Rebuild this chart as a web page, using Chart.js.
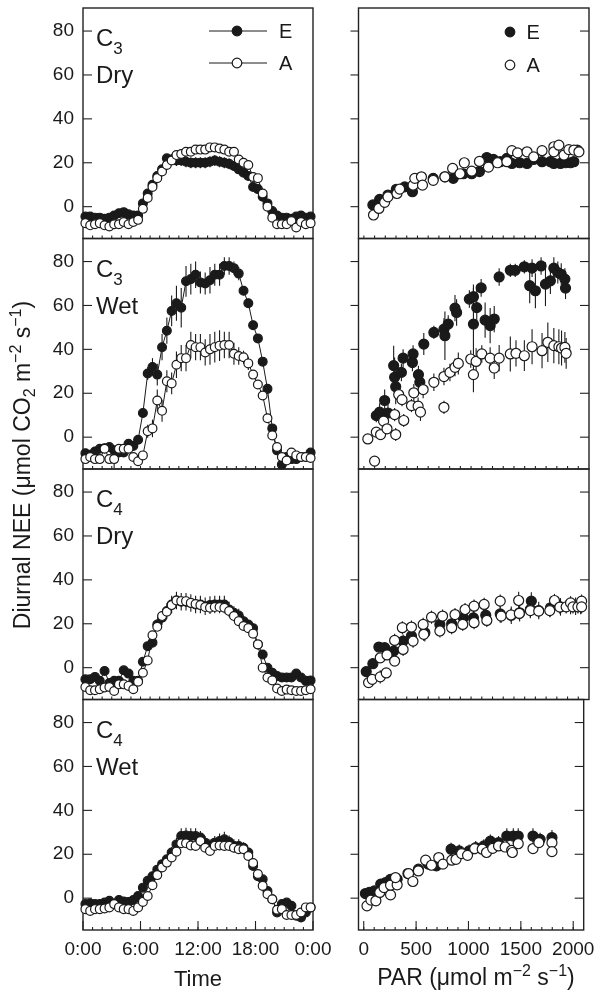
<!DOCTYPE html>
<html>
<head>
<meta charset="utf-8">
<script src="https://cdn.jsdelivr.net/npm/chart.js@4.4.1/dist/chart.umd.min.js"></script>
<style>
    body { margin: 0; background: #fff; }
    #wrap { position: relative; width: 603px; height: 993px; overflow: hidden;
        font-family: "Liberation Sans", Arial, sans-serif; color: #1a1a1a; }
    #wrap canvas { position: absolute; left: 0; top: 0; }
    .plab { position: absolute; left: 96px; font-size: 24px; line-height: 37px; white-space: nowrap; }
    .plab sub { font-size: 17px; vertical-align: -8px; line-height: 0; }
    .ttl { position: absolute; text-align: center; white-space: nowrap; line-height: 30px; height: 30px; }
    .ttl sup, .ttl sub { font-size: 16px; line-height: 0; }
    .ttl sup { vertical-align: 9px; }
    .ttl sub { vertical-align: -5px; }
    #ytitle { left: -228px; top: 450px; width: 500px; font-size: 23px; transform: rotate(-90deg); }
    #xtitleL { left: 98px; top: 964px; width: 200px; font-size: 22px; }
    #xtitleR { left: 326px; top: 962px; width: 300px; font-size: 23px; }
</style>
</head>
<body>
<div id="wrap">
    <canvas id="l0" width="603" height="993"></canvas>
    <canvas id="l1" width="603" height="993"></canvas>
    <canvas id="l2" width="603" height="993"></canvas>
    <canvas id="l3" width="603" height="993"></canvas>
    <canvas id="r0" width="603" height="993"></canvas>
    <canvas id="r1" width="603" height="993"></canvas>
    <canvas id="r2" width="603" height="993"></canvas>
    <canvas id="r3" width="603" height="993"></canvas>
    <div class="ttl" id="ytitle">Diurnal NEE (μmol CO<sub>2</sub> m<sup>−2</sup> s<sup>−1</sup>)</div>
    <div class="ttl" id="xtitleL">Time</div>
    <div class="ttl" id="xtitleR">PAR (μmol m<sup>−2</sup> s<sup>−1</sup>)</div>
</div>
<script>
// ---- data ----
const seriesNames = ['E', 'A'];
const panelPlant = ['3', '3', '4', '4'];
const panelWater = ['Dry', 'Wet', 'Dry', 'Wet'];

const timeTicks = [0, 6, 12, 18, 24];
const timeLabels = ['0:00', '6:00', '12:00', '18:00', '0:00'];
const parTicks = [0, 500, 1000, 1500, 2000];
const parLabels = ['0', '500', '1000', '1500', '2000'];
const yTicks = [0, 20, 40, 60, 80];

// half-hour means, plotted at the middle of each interval
const hours = [
    0.25, 0.75, 1.25, 1.75, 2.25, 2.75, 3.25, 3.75,
    4.25, 4.75, 5.25, 5.75, 6.25, 6.75, 7.25, 7.75,
    8.25, 8.75, 9.25, 9.75, 10.25, 10.75, 11.25, 11.75,
    12.25, 12.75, 13.25, 13.75, 14.25, 14.75, 15.25, 15.75,
    16.25, 16.75, 17.25, 17.75, 18.25, 18.75, 19.25, 19.75,
    20.25, 20.75, 21.25, 21.75, 22.25, 22.75, 23.25, 23.75
];

const c3DryE = [
    -4.5, -4.5, -5, -5, -5.5, -5, -4, -3,
    -2.5, -3.5, -4, -4, 1.5, 6, 10, 14,
    17, 22, 21.5, 21, 21, 20.5, 20, 20,
    20, 20, 20.5, 21, 20.5, 20, 19.5, 18.5,
    17, 15.5, 14, 9, 8, 4.5, 1.5, -2,
    -4, -5, -5, -5.5, -4.5, -4, -5, -4.5
];
const c3DryErrE = [
    0.8, 0.8, 0.8, 0.8, 0.8, 0.8, 0.8, 0.8,
    0.8, 0.8, 0.8, 0.8, 1, 1.5, 1.5, 2,
    2, 2, 2.5, 2.5, 2.5, 2.5, 2.5, 2.5,
    2.5, 2.5, 2.5, 2.5, 2.5, 2.5, 2.5, 2,
    2, 2, 2, 1.5, 1.5, 1.5, 1, 1,
    0.8, 0.8, 0.8, 0.8, 0.8, 0.8, 0.8, 0.8
];
const c3DryA = [
    -7.5, -8.5, -8, -7.5, -8.5, -9, -8, -8,
    -7, -8, -7, -6, -1, 4, 9, 13,
    16, 19, 21, 23.5, 24, 25, 25, 26,
    26, 26, 27, 27, 26.5, 26, 25, 25,
    21.5, 20, 19, 13.5, 13, 6, 0, -5,
    -8, -8, -8, -6.5, -9.5, -7, -8, -7.5
];
const c3DryErrA = [
    0.8, 0.8, 0.8, 0.8, 0.8, 0.8, 0.8, 0.8,
    0.8, 0.8, 0.8, 0.8, 1, 1, 1, 1,
    1, 1, 1, 1, 1, 1, 1, 1,
    1, 1, 1, 1, 1, 1, 1, 1,
    1, 1, 1, 1, 1, 1, 1, 1,
    0.8, 0.8, 0.8, 0.8, 0.8, 0.8, 0.8, 0.8
];

const c3WetE = [
    -7.3, -8, -6.5, -5.3, -5, -4.5, -6, -7,
    -7, -3, -4, -1.2, 11, 29, 32, 28.5,
    41, 48.5, 57.5, 61, 59, 71, 72, 74,
    70.5, 70, 71.5, 74, 74, 78, 78, 77,
    74.5, 66.7, 61, 51, 45, 34.4, 22, 4,
    -6, -12.5, -9, -10, -10, -9, -9, -7
];
const c3WetErrE = [
    1, 1, 2, 1, 2, 1, 2, 1,
    1, 2, 2, 1, 2, 3, 4, 5,
    6, 6, 7, 8, 9, 7, 7, 6,
    5, 5, 6, 5, 5, 4, 4, 3,
    3, 2, 2, 2, 2, 2, 2, 1.5,
    1, 1.5, 1, 1, 1, 1, 1, 1
];
const c3WetA = [
    -10, -9, -10, -10, -5.3, -10, -10, -5.3,
    -5.3, -5.3, -9, -11, -8.3, 2.7, 4, 16.7,
    12, 25.5, 24.5, 33, 36, 36, 42, 41,
    41, 38.6, 40, 41, 41.7, 42, 42, 38,
    37, 36.4, 33.6, 28.5, 24, 19, 8.6, 0.8,
    -4.5, -9, -10.6, -7, -8.3, -9, -9, -9.5
];
const c3WetErrA = [
    1, 2, 1, 1, 2, 2, 4, 2,
    2, 2, 2, 2, 1, 3, 4, 5,
    5, 5, 5, 6, 6, 6, 6, 6,
    6, 6, 7, 7, 7, 6, 6, 5,
    4, 3, 3, 2, 2, 2, 2, 1.5,
    1, 1, 1, 1, 1, 1, 1, 1
];

const c4DryE = [
    -5.3, -5.3, -4.2, -6, -1.5, -7, -6, -6,
    -1.2, -2.7, -6, -6, 2.7, 9.8, 11.4, 19.7,
    22.7, 25.8, 28.8, 30.6, 30, 30, 29.5, 28.8,
    28.8, 28, 28.5, 28.8, 28.8, 28.8, 26.5, 25,
    23.8, 21.2, 19.7, 18, 10.6, 6, 0, -2.3,
    -3.8, -4.5, -4.5, -4.5, -2.7, -4.5, -6, -5.8
];
const c4DryErrE = [
    1, 1, 1, 1, 1, 1, 1, 1,
    1, 1, 1, 1, 1, 1.5, 2, 2.5,
    3, 3.5, 4, 4, 4, 4, 4, 4,
    4, 4, 4, 4, 4, 4, 3.5, 3,
    3, 2.5, 2, 2, 1.5, 1.5, 1, 1,
    1, 1, 1, 1, 1, 1, 1, 1
];
const c4DryA = [
    -8.8, -10.3, -10.3, -9.8, -9, -8.8, -10.6, -7.6,
    -7.6, -8.3, -9.8, -6.4, -2.3, 3.3, 14.8, 18.6,
    23.5, 25.5, 28.5, 30.6, 30.3, 30.3, 29.5, 29,
    28.5, 27.6, 27.3, 27.6, 27.6, 27.3, 25.8, 23.5,
    21.2, 19, 18, 15.5, 10.6, 0, -4.5, -5.8,
    -9.5, -10.6, -10, -10.3, -10.6, -10.6, -10.3, -9.8
];
const c4DryErrA = [
    1, 1, 1, 1, 1, 1, 1, 1,
    1, 1, 1, 1, 1, 1, 1, 1,
    1, 1, 1, 1, 1, 1, 1, 1,
    1, 1, 1, 1, 1, 1, 1, 1,
    1, 1, 1, 1, 1, 1, 1, 1,
    1, 1, 1, 1, 1, 1, 1, 1
];

const c4WetE = [
    -2.7, -2.4, -2.7, -2.7, -2, -1.2, -2.7, -0.8,
    -1.5, -1.7, -0.8, 1, 4.8, 7.9, 10, 13,
    15.5, 17.7, 20.8, 24.5, 28.3, 28.6, 28.3, 28.3,
    27.6, 25.3, 23.8, 25.3, 26, 26.8, 25.6, 23.8,
    23.8, 23, 20.8, 14.7, 10, 8.6, 3.3, -0.5,
    -6.5, -2.7, -2, -3.5, -8, -8.8, -6.5, -4.2
];
const c4WetErrE = [
    1, 1, 1, 1, 1, 1, 1, 1,
    1, 1, 1, 1, 1, 1, 1.5, 1.5,
    2, 2, 2.5, 3, 3.5, 3.5, 3.5, 3.5,
    3, 3, 3, 3, 3.5, 3.5, 3, 3,
    3, 2.5, 2, 2, 1.5, 1.5, 1, 1,
    1, 1, 1, 1, 1, 1, 1, 1
];
const c4WetA = [
    -5, -5.8, -5, -5, -4.7, -4.2, -2.7, -4.2,
    -5, -5, -5.8, -4.2, -1.7, 1, 5.9, 10.5,
    14, 16.2, 18.5, 21.2, 25, 25, 24, 23.8,
    26, 23, 21.5, 23.8, 24, 23.8, 23.8, 23,
    22.3, 22.3, 19.2, 16, 11, 5.6, 1.8, -0.5,
    -5.3, -5, -7.7, -7.7, -7.7, -6.5, -4.2, -4.2
];
const c4WetErrA = [
    1, 1, 1, 1, 1, 1, 1, 1,
    1, 1, 1, 1, 1, 1, 1, 1,
    1, 1, 1, 1, 1, 1, 1, 1,
    1, 1, 1, 1, 1, 1, 1, 1,
    1, 1, 1, 1, 1, 1, 1, 1,
    1, 1, 1, 1, 1, 1, 1, 1
];

// light response: PAR vs NEE
const c3DryParE = [84, 147, 225, 303, 381, 453, 522, 647, 756, 834, 928, 1006, 1078, 1147, 1209, 1272, 1334, 1381, 1453, 1522, 1584, 1662, 1740, 1772, 1834, 1881, 1928, 1959, 1990];
const c3DryLightE = [0.8, 3.3, 5.3, 7.9, 9, 6.8, 10.6, 12.9, 13.6, 12.9, 15, 15, 16, 22.4, 21.5, 20.5, 22, 19.7, 20, 19.7, 21.5, 20.5, 20.5, 19.7, 19.7, 20, 20, 20.5, 25.8];
const c3DryLightErrE = [0.8, 1, 1, 1, 1, 1, 1, 1.5, 1.5, 1.5, 2, 1.5, 2, 1.5, 1.5, 1.5, 2, 2, 2, 2, 2, 2, 2.5, 2.5, 2, 2, 2, 2, 1.5];
const c3DryParA = [90, 140, 194, 225, 309, 334, 459, 475, 537, 547, 647, 756, 828, 897, 937, 1006, 1078, 1162, 1247, 1334, 1381, 1434, 1522, 1584, 1662, 1772, 1772, 1819, 1866, 1912, 1959, 2006];
const c3DryLightA = [-3.8, -0.8, 2, 4.5, 6, 8, 9.8, 12.9, 13.6, 9.8, 12, 13.6, 17.4, 15, 20, 16.2, 20.6, 18, 20, 20.5, 25.5, 24.5, 25, 22.7, 25.5, 27.3, 25, 28, 23.5, 26, 25.8, 25];
const c3DryLightErrA = [1, 1, 1, 1, 1, 1, 1, 1, 1, 1, 1, 1, 1, 1, 1, 1, 1, 1, 1, 1, 1, 1, 1, 1, 1, 1, 1, 1, 1, 1, 1, 1];

const c3WetParE = [116, 147, 194, 225, 278, 287, 297, 350, 366, 453, 459, 509, 522, 559, 653, 747, 756, 787, 850, 865, 984, 1022, 1022, 1053, 1094, 1131, 1178, 1216, 1262, 1366, 1412, 1497, 1547, 1569, 1600, 1653, 1694, 1740, 1772, 1809, 1841, 1875, 1881];
const c3WetLightE = [9.8, 11.4, 16.7, 11, 32.6, 27.3, 23, 29.5, 36, 34, 37.9, 28.5, 25, 42.4, 47.7, 49.2, 46.2, 51.5, 58.8, 56.8, 62.9, 64, 51.5, 59, 68, 53.3, 50.8, 53.8, 73, 76, 76, 77.6, 69, 77, 66.7, 78, 69.7, 71.2, 77, 75, 74.2, 72, 67.9];
const c3WetLightErrE = [3, 4, 5, 4, 9, 9, 8, 4, 4, 4, 4, 4, 5, 5, 3, 5, 11, 4, 6, 6, 4, 4, 18, 8, 4, 8, 8, 6, 4, 3, 3, 3, 8, 4, 8, 4, 10, 6, 5, 5, 5, 5, 5];
const c3WetParA = [37, 100, 116, 156, 184, 216, 287, 297, 325, 356, 372, 444, 466, 506, 528, 553, 653, 747, 747, 803, 850, 881, 997, 1022, 1047, 1100, 1178, 1216, 1262, 1366, 1419, 1497, 1569, 1662, 1716, 1772, 1819, 1844, 1875, 1887];
const c3WetLightA = [-0.8, -10.9, 2.3, 1.2, 7.3, 3.8, 10.3, 1.2, 19.4, 17.1, 7.6, 14.4, 20.2, 14.1, 11.4, 21.7, 25, 13.6, 27.6, 29.5, 31.8, 33.6, 35.6, 28.5, 34.5, 37.9, 36, 31.5, 36, 37.9, 38.2, 37.1, 41.2, 39.4, 43.2, 41.7, 41.2, 40.6, 40.9, 38.2];
const c3WetLightErrA = [1, 1, 2, 2, 2, 2, 3, 3, 3, 3, 3, 3, 4, 4, 4, 4, 4, 3, 4, 4, 4, 5, 4, 8, 6, 4, 5, 5, 6, 8, 6, 7, 8, 8, 9, 8, 8, 8, 7, 7];

const c4DryParE = [22, 84, 140, 194, 225, 278, 366, 444, 569, 709, 819, 928, 1022, 1137, 1272, 1375, 1453, 1553, 1562, 1631, 1741, 1834, 1928, 1975, 2022];
const c4DryLightE = [-1.8, 1.8, 9.4, 9.1, 6.8, 7.6, 12.1, 14.4, 15.9, 19.7, 20, 22.7, 22.7, 23.9, 24.5, 23.9, 25, 26.5, 30.3, 26, 27.3, 27.7, 28.3, 28, 28.3];
const c4DryLightErrE = [1, 2, 2, 2, 3, 3, 3, 3, 4, 4, 4, 4, 4, 4, 4, 4, 4, 4, 4, 4, 4, 4, 4, 4, 4];
const c4DryParA = [44, 78, 153, 209, 153, 216, 287, 287, 366, 359, 444, 459, 559, 553, 631, 709, 734, 819, 850, 922, 944, 1028, 1028, 1122, 1147, 1272, 1281, 1372, 1444, 1450, 1553, 1631, 1734, 1778, 1828, 1887, 1928, 1950, 1997, 2031, 2031];
const c4DryLightA = [-6.8, -5.3, -4.2, -2.4, 4.5, 5.8, 12.4, 3, 8.3, 18.2, 18.5, 12.1, 15.2, 19.7, 23, 16.7, 23.5, 18.2, 24.2, 19.7, 26.5, 20.5, 28, 28.8, 21.5, 30.3, 23.5, 24, 30.6, 24.7, 26, 25.8, 26, 30.6, 27.6, 27.7, 29.5, 27.7, 27.7, 30.3, 27.7];
const c4DryLightErrA = [2, 2, 3, 2, 2, 2, 3, 2, 3, 3, 3, 3, 3, 3, 3, 3, 3, 3, 3, 3, 3, 3, 3, 3, 3, 3, 3, 3, 4, 3, 3, 3, 3, 3, 3, 3, 3, 3, 3, 3, 3];

const c4WetParE = [16, 53, 100, 162, 209, 256, 319, 422, 522, 616, 694, 834, 912, 1006, 1069, 1147, 1209, 1287, 1366, 1428, 1475, 1616, 1684, 1797];
const c4WetLightE = [2.1, 2.6, 3.3, 6.4, 7.1, 8.6, 8.6, 11.2, 13.2, 15.5, 14.7, 22.3, 21.5, 21.5, 23, 23.8, 26, 25.3, 28.3, 28.3, 28.3, 28.3, 26.8, 27.6];
const c4WetLightErrE = [1, 1, 1, 1, 1, 1.5, 1.5, 2, 2, 2, 2, 3, 3, 3, 3, 3, 3, 3, 3.5, 3.5, 3.5, 3.5, 3, 3.5];
const c4WetParA = [31, 69, 116, 153, 194, 256, 256, 319, 303, 428, 469, 522, 591, 647, 716, 756, 841, 881, 934, 991, 1059, 1131, 1172, 1231, 1287, 1350, 1412, 1419, 1475, 1616, 1672, 1797, 1797];
const c4WetLightA = [-3.5, -0.9, -1.2, 2.6, 4.8, 1.5, 5.9, 6.1, 9.4, 11.2, 7.6, 12.4, 17.3, 15, 18.5, 15.5, 17.3, 17.7, 20.3, 19.5, 22.6, 22.3, 20.8, 22.7, 23.8, 23.3, 21.8, 20.8, 24.8, 22.6, 25.3, 25.3, 21.2];
const c4WetLightErrA = [1, 1, 1, 1, 1, 1, 1, 1, 1, 1, 1, 1, 1, 1, 1, 1, 1.5, 1.5, 1.5, 1.5, 1.5, 1.5, 1.5, 1.5, 1.5, 1.5, 1.5, 1.5, 1.5, 1.5, 1.5, 1.5, 1.5];

// ---- layout ----
const W = 603, H = 993;
const rowTop = [8, 238.5, 469, 699.5];
const rowH = 230.5;
const leftCol = {x0: 83, x1: 313};
const rightCol = {x0: 358.5, x1: 589};
const INK = '#1a1a1a';
const FONT = '"Liberation Sans", Arial, sans-serif';

Chart.defaults.font.family = FONT;
Chart.defaults.color = INK;

function line(ctx, x0, y0, x1, y1) {
    ctx.beginPath();
    ctx.moveTo(x0, y0);
    ctx.lineTo(x1, y1);
    ctx.stroke();
}

// vertical error bars, from each dataset's "errors" array
const errorBars = {
    id: 'errorBars',
    beforeDatasetsDraw(chart) {
        const {ctx, scales: {x, y}} = chart;
        ctx.save();
        ctx.strokeStyle = INK;
        ctx.lineWidth = 1.1;
        chart.data.datasets.forEach(ds => {
            if (!ds.errors) return;
            ds.data.forEach((p, i) => {
                const e = ds.errors[i];
                if (!e) return;
                const px = x.getPixelForValue(p.x);
                line(ctx, px, y.getPixelForValue(p.y - e), px, y.getPixelForValue(p.y + e));
            });
        });
        ctx.restore();
    }
};

// panel box + inward ticks
const frame = {
    id: 'frame',
    beforeDatasetsDraw(chart, args, o) {
        const {ctx, chartArea: ca, scales: {x, y}} = chart;
        ctx.save();
        ctx.strokeStyle = '#222';
        ctx.lineWidth = 1.4;
        ctx.strokeRect(ca.left, ca.top, ca.right - ca.left, ca.bottom - ca.top);
        ctx.lineWidth = 1.1;
        yTicks.forEach(v => {
            const py = y.getPixelForValue(v);
            if (o.side === 'left') {
                line(ctx, ca.left, py, ca.left + 9, py);
            } else {
                line(ctx, ca.left - 8, py, ca.left, py);
                line(ctx, ca.right - 9, py, ca.right, py);
            }
        });
        o.minor.forEach(v => {
            const px = x.getPixelForValue(v);
            line(ctx, px, ca.bottom, px, ca.bottom - 3);
        });
        if (o.bottom) {
            o.major.forEach(v => {
                const px = x.getPixelForValue(v);
                line(ctx, px, ca.bottom, px, ca.bottom - 9);
            });
        }
        ctx.restore();
    }
};

// small legend inside the top panels
const legendBox = {
    id: 'legendBox',
    afterDatasetsDraw(chart, args, o) {
        if (!o.show) return;
        const {ctx, chartArea: ca} = chart;
        ctx.save();
        seriesNames.forEach((name, k) => {
            const ds = chart.data.datasets.find(d => d.label === name);
            const cx = ca.left + o.dx, cy = ca.top + o.dy + k * o.gap;
            ctx.strokeStyle = INK;
            ctx.lineWidth = 1;
            if (o.line) line(ctx, cx - 28, cy, cx + 30, cy);
            ctx.beginPath();
            ctx.arc(cx, cy, o.r, 0, Math.PI * 2);
            ctx.fillStyle = ds.pointBackgroundColor;
            ctx.fill();
            ctx.lineWidth = 1.2;
            ctx.stroke();
            ctx.fillStyle = INK;
            ctx.font = '20px ' + FONT;
            ctx.textBaseline = 'middle';
            ctx.fillText(name, ca.left + o.tx, cy + 1);
        });
        ctx.restore();
    }
};

function pts(xs, ys) {
    return xs.map((x, i) => ({x: x, y: ys[i]}));
}

function series(name, xs, ys, errs, open, withLine) {
    return {
        label: name,
        data: pts(xs, ys),
        errors: errs,
        showLine: withLine,
        borderColor: INK,
        borderWidth: 1,
        tension: 0,
        pointRadius: withLine ? 4.4 : 5,
        pointBorderWidth: 1.2,
        pointBorderColor: INK,
        pointBackgroundColor: open ? '#fff' : INK,
        clip: false,
        order: open ? 0 : 1
    };
}

const hourMinor = [];
for (let h = 1; h < 24; h++) hourMinor.push(h);
const parMinor = [];
for (let p = 0; p <= 2000; p += 100) parMinor.push(p);

function makePanel(id, row, col, eXs, eVals, eErr, aXs, aVals, aErr) {
    const isLeft = col === 'left';
    const box = isLeft ? leftCol : rightCol;
    const bottom = row === 3;
    const top = rowTop[row];
    const bot = top + rowH;
    const xTickVals = isLeft ? timeTicks : parTicks;
    const xTickText = isLeft ? timeLabels : parLabels;

    return new Chart(document.getElementById(id), {
        type: isLeft ? 'line' : 'scatter',
        data: {
            datasets: [
                series('A', aXs, aVals, aErr, true, isLeft),
                series('E', eXs, eVals, eErr, false, isLeft)
            ]
        },
        options: {
            responsive: false,
            animation: false,
            events: [],
            layout: {
                padding: {
                    left: isLeft ? 0 : box.x0,
                    right: W - box.x1,
                    top: top,
                    bottom: bottom ? H - bot - 30 : H - bot
                }
            },
            plugins: {
                legend: {display: false},
                tooltip: {enabled: false},
                frame: {
                    side: col,
                    bottom: bottom,
                    minor: isLeft ? hourMinor : parMinor,
                    major: xTickVals
                },
                legendBox: isLeft
                    ? {show: row === 0, line: true, dx: 154, dy: 23, gap: 32, tx: 196, r: 4.8}
                    : {show: row === 0, line: false, dx: 151.5, dy: 24, gap: 33, tx: 168, r: 4.8}
            },
            scales: {
                x: {
                    type: 'linear',
                    min: isLeft ? 0 : -50,
                    max: isLeft ? 24 : 2100,
                    display: bottom,
                    afterBuildTicks: s => { s.ticks = xTickVals.map(v => ({value: v})); },
                    afterFit: s => { s.height = bottom ? 30 : 0; },
                    grid: {display: false, drawTicks: false},
                    border: {display: false},
                    ticks: {
                        autoSkip: false,
                        maxRotation: 0,
                        padding: 8,
                        color: INK,
                        font: {size: 19},
                        callback: v => xTickText[xTickVals.indexOf(v)]
                    }
                },
                y: {
                    min: -14.5,
                    max: 90.5,
                    display: isLeft,
                    afterBuildTicks: s => { s.ticks = yTicks.map(v => ({value: v})); },
                    afterFit: s => { s.width = isLeft ? box.x0 : 0; s.paddingTop = 0; s.paddingBottom = 0; },
                    grid: {display: false, drawTicks: false},
                    border: {display: false},
                    ticks: {padding: 9, color: INK, font: {size: 19}}
                }
            }
        },
        plugins: [frame, errorBars, legendBox]
    });
}

makePanel('l0', 0, 'left', hours, c3DryE, c3DryErrE, hours, c3DryA, c3DryErrA);
makePanel('l1', 1, 'left', hours, c3WetE, c3WetErrE, hours, c3WetA, c3WetErrA);
makePanel('l2', 2, 'left', hours, c4DryE, c4DryErrE, hours, c4DryA, c4DryErrA);
makePanel('l3', 3, 'left', hours, c4WetE, c4WetErrE, hours, c4WetA, c4WetErrA);
makePanel('r0', 0, 'right', c3DryParE, c3DryLightE, c3DryLightErrE, c3DryParA, c3DryLightA, c3DryLightErrA);
makePanel('r1', 1, 'right', c3WetParE, c3WetLightE, c3WetLightErrE, c3WetParA, c3WetLightA, c3WetLightErrA);
makePanel('r2', 2, 'right', c4DryParE, c4DryLightE, c4DryLightErrE, c4DryParA, c4DryLightA, c4DryLightErrA);
makePanel('r3', 3, 'right', c4WetParE, c4WetLightE, c4WetLightErrE, c4WetParA, c4WetLightA, c4WetLightErrA);

// panel labels (C3 / C4, Dry / Wet)
const wrap = document.getElementById('wrap');
panelPlant.forEach((p, r) => {
    const d = document.createElement('div');
    d.className = 'plab';
    d.style.top = (rowTop[r] + 11) + 'px';
    d.innerHTML = 'C<sub>' + p + '</sub><br>' + panelWater[r];
    wrap.appendChild(d);
});
</script>
</body>
</html>
